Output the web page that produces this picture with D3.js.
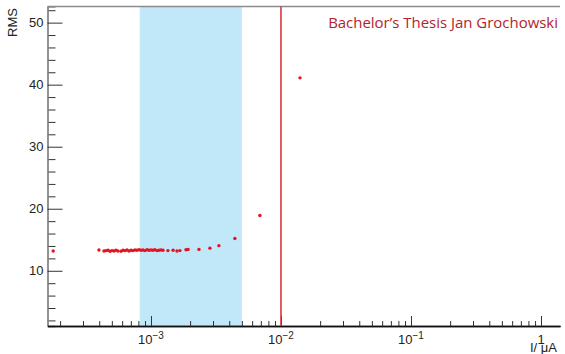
<!DOCTYPE html>
<html>
<head>
<meta charset="utf-8">
<script src="https://cdn.jsdelivr.net/npm/d3@7"></script>
<style>
  body { margin: 0; background: #fff; }
  svg { display: block; font-family: "Liberation Sans", Arial, sans-serif; }
</style>
</head>
<body>
<div id="chart"></div>
<script>
// RMS noise vs. injected current
const current = [1.77e-4, 3.98e-4, 4.35e-4, 4.51e-4, 4.67e-4, 4.84e-4, 5.01e-4, 5.19e-4, 5.38e-4, 5.57e-4,
  5.88e-4, 6.09e-4, 6.31e-4, 6.54e-4, 6.77e-4, 7.02e-4, 7.27e-4, 7.53e-4, 7.80e-4, 8.09e-4,
  8.38e-4, 8.68e-4, 8.99e-4, 9.32e-4, 9.65e-4, 1.0e-3, 1.036e-3, 1.073e-3, 1.112e-3, 1.152e-3,
  1.194e-3, 1.237e-3, 1.35e-3, 1.48e-3, 1.585e-3, 1.67e-3, 1.86e-3, 1.93e-3, 2.34e-3, 2.84e-3,
  3.33e-3, 4.42e-3, 6.88e-3, 1.40e-2];
const rms = [13.2, 13.35, 13.2, 13.25, 13.3, 13.15, 13.25, 13.2, 13.3, 13.2,
  13.15, 13.3, 13.25, 13.35, 13.2, 13.3, 13.25, 13.35, 13.3, 13.4,
  13.3, 13.35, 13.25, 13.4, 13.3, 13.35, 13.3, 13.4, 13.25, 13.3,
  13.35, 13.3, 13.25, 13.3, 13.2, 13.25, 13.4, 13.45, 13.45, 13.65,
  14.05, 15.2, 18.9, 41.1];

const bandRange = [8.2e-4, 5.0e-3];   // shaded operating region
const cutLine = 1e-2;                 // vertical marker
const xDomain = [1.6e-4, 1.4];
const yDomain = [1.1, 52.6];
const yMajor = [10, 20, 30, 40, 50];
const xMajor = [1e-3, 1e-2, 1e-1, 1];
const xExponent = ["-3", "-2", "-1", null];

const W = 565, H = 354;
const frame = { left: 47.5, right: 560, top: 6.5, bottom: 326 };

const svg = d3.select("#chart").append("svg")
  .attr("width", W).attr("height", H);

const x = d3.scaleLog().domain(xDomain).range([frame.left, frame.right]);
const y = d3.scaleLinear().domain(yDomain).range([frame.bottom, frame.top]);

// shaded band
svg.append("rect")
  .attr("x", x(bandRange[0]))
  .attr("y", frame.top)
  .attr("width", x(bandRange[1]) - x(bandRange[0]))
  .attr("height", frame.bottom - frame.top)
  .attr("fill", "#c1e8f9");

// frame top edge
svg.append("line")
  .attr("x1", frame.left).attr("x2", frame.right)
  .attr("y1", frame.top).attr("y2", frame.top)
  .attr("stroke", "#8c8c8c").attr("stroke-width", 1.5);

// y axis: minor + major ticks pointing inward
const yMinor = d3.range(2, 53, 2).filter(v => v % 10 !== 0 && v >= yDomain[0] && v <= yDomain[1]);
const yMinorG = svg.append("g")
  .attr("transform", `translate(${frame.left},0)`)
  .call(d3.axisLeft(y).tickValues(yMinor).tickSize(-8).tickFormat(""));
const yAxisG = svg.append("g")
  .attr("transform", `translate(${frame.left},0)`)
  .call(d3.axisLeft(y).tickValues(yMajor).tickSize(-15).tickPadding(4).tickSizeOuter(0));
[yMinorG, yAxisG].forEach(g => {
  g.select(".domain").attr("stroke", "#8c8c8c").attr("stroke-width", 1.5);
  g.selectAll(".tick line").attr("stroke", "#333");
});
yAxisG.selectAll(".tick text")
  .attr("font-size", 13).attr("fill", "#222")
  .attr("font-family", "Liberation Sans, Arial, sans-serif");

// x axis: log minor ticks at 2..9 of each decade
const xMinor = [];
for (let e = -4; e <= 0; e++) {
  for (let m = 2; m <= 9; m++) {
    const v = m * Math.pow(10, e);
    if (v >= xDomain[0] && v <= xDomain[1]) xMinor.push(v);
  }
}
const xMinorG = svg.append("g")
  .attr("transform", `translate(0,${frame.bottom})`)
  .call(d3.axisBottom(x).tickValues(xMinor).tickSize(-5).tickFormat("").tickSizeOuter(0));
const xAxisG = svg.append("g")
  .attr("transform", `translate(0,${frame.bottom})`)
  .call(d3.axisBottom(x).tickValues(xMajor).tickSize(-10).tickFormat("").tickSizeOuter(0));
[xMinorG, xAxisG].forEach(g => {
  g.select(".domain").attr("stroke", "#111").attr("stroke-width", 1.5);
  g.selectAll(".tick line").attr("stroke", "#333");
});

// decade labels with superscript exponent
xMajor.forEach((v, i) => {
  const t = svg.append("text")
    .attr("x", x(v)).attr("y", 344)
    .attr("text-anchor", "middle")
    .attr("font-size", 13).attr("fill", "#222");
  if (xExponent[i] === null) {
    t.text("1");
  } else {
    t.append("tspan").text("10");
    t.append("tspan").attr("dy", -5).attr("font-size", 10)
      .text(xExponent[i].replace("-", "\u2212"));
  }
});

// axis titles
svg.append("text")
  .attr("transform", `translate(17,8) rotate(-90)`)
  .attr("text-anchor", "end")
  .attr("font-size", 13).attr("fill", "#222")
  .text("RMS");

svg.append("text")
  .attr("x", 557).attr("y", 352)
  .attr("text-anchor", "end")
  .attr("font-size", 13).attr("fill", "#222")
  .text("I/ \u03bcA");

// vertical marker line
svg.append("line")
  .attr("x1", x(cutLine)).attr("x2", x(cutLine))
  .attr("y1", frame.top).attr("y2", frame.bottom)
  .attr("stroke", "#d62a30").attr("stroke-width", 1.5);

// data points
svg.append("g")
  .selectAll("circle")
  .data(current.map((c, i) => ({ c, r: rms[i] })))
  .join("circle")
  .attr("cx", d => x(d.c))
  .attr("cy", d => y(d.r))
  .attr("r", 1.7)
  .attr("fill", "#e3141f");

// thesis tag, sized so it spans ~230px
const tag = svg.append("text")
  .attr("x", 558).attr("y", 28)
  .attr("text-anchor", "end")
  .attr("font-family", "Open Sans, sans-serif")
  .attr("font-size", 16)
  .attr("fill", "#b3232d")
  .text("Bachelor\u2019s Thesis Jan Grochowski");
const tagW = tag.node().getComputedTextLength();
tag.attr("font-size", (16 * 230 / tagW).toFixed(2));
</script>
</body>
</html>
